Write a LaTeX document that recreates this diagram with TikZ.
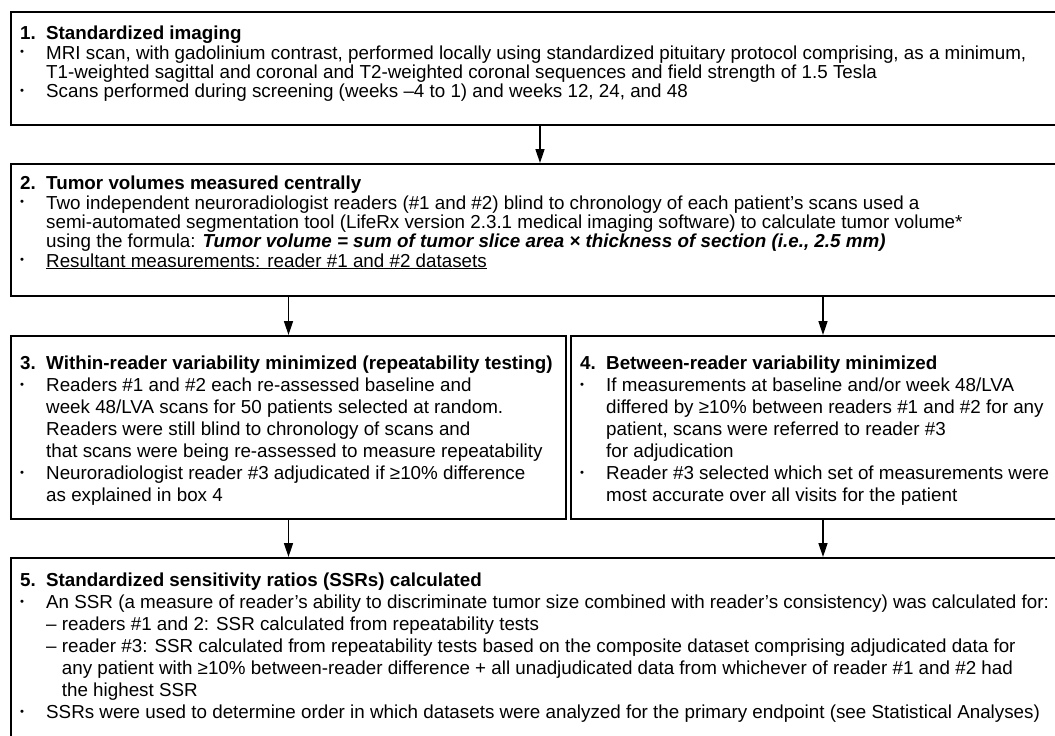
\documentclass[tikz,border=0pt]{standalone}
\usepackage{fontspec}
\setmainfont{Liberation Sans}
\usepackage{graphicx}
\usepackage{array}
\usetikzlibrary{arrows.meta,calc}

\newcommand{\bul}{\raisebox{0.35ex}{\scalebox{0.6}{\textbullet}}}
\newcommand{\subind}{\phantom{– }}

\tikzset{
  box/.style={draw, line width=2pt, rectangle, inner sep=0pt, anchor=north west},
  boxtext/.style={anchor=north west, inner sep=0pt, align=left},
  arr/.style={line width=1.6pt, -{Triangle[length=14pt,width=9pt]}}
}

\begin{document}
\begin{tikzpicture}[x=1pt,y=-1pt]
    \useasboundingbox (0,0) rectangle (1055,736);
    \clip (0,0) rectangle (1055,736);

    % Kutular
    \node[box, minimum width=1058pt, minimum height=113pt] (box1) at (10,11) {};
    \node[box, minimum width=1058pt, minimum height=132pt] (box2) at (10,163) {};
    \node[box, minimum width=555pt, minimum height=183pt] (box3) at (10,335) {};
    \node[box, minimum width=504pt, minimum height=183pt] (box4) at (570,335) {};
    \node[box, minimum width=1058pt, minimum height=210pt] (box5) at (10,557) {};

    % Metinler
    \node[boxtext, font=\fontsize{18.8}{19}\selectfont] (txt1) at ([shift={(10,15)}]box1.north west) {%
      \begin{tabular}{@{}p{26pt}@{}l@{}}
        \textbf{1.} & \textbf{Standardized imaging}\\
        \bul & MRI scan, with gadolinium contrast, performed locally using standardized pituitary protocol comprising, as a minimum,\\
             & T1-weighted sagittal and coronal and T2-weighted coronal sequences and field strength of 1.5 Tesla\\
        \bul & Scans performed during screening (weeks –4 to 1) and weeks 12, 24, and 48
      \end{tabular}};

    \node[boxtext, font=\fontsize{18.8}{19}\selectfont] (txt2) at ([shift={(10,13)}]box2.north west) {%
      \begin{tabular}{@{}p{26pt}@{}l@{}}
        \textbf{2.} & \textbf{Tumor volumes measured centrally}\\
        \bul & Two independent neuroradiologist readers (\#1 and \#2) blind to chronology of each patient’s scans used a\\
             & semi-automated segmentation tool (LifeRx version 2.3.1 medical imaging software) to calculate tumor volume*\\
             & using the formula: {\bfseries\itshape Tumor volume = sum of tumor slice area × thickness of section (i.e., 2.5 mm)}\\
        \bul & \underline{Resultant measurements: reader \#1 and \#2 datasets}
      \end{tabular}};

    \node[boxtext, font=\fontsize{18.8}{22}\selectfont] (txt3) at ([shift={(10,19)}]box3.north west) {%
      \begin{tabular}{@{}p{26pt}@{}l@{}}
        \textbf{3.} & \textbf{Within-reader variability minimized (repeatability testing)}\\
        \bul & Readers \#1 and \#2 each re-assessed baseline and\\
             & week 48/LVA scans for 50 patients selected at random.\\
             & Readers were still blind to chronology of scans and\\
             & that scans were being re-assessed to measure repeatability\\
        \bul & Neuroradiologist reader \#3 adjudicated if ≥10\% difference\\
             & as explained in box 4
      \end{tabular}};

    \node[boxtext, font=\fontsize{18.8}{22}\selectfont] (txt4) at ([shift={(10,19)}]box4.north west) {%
      \begin{tabular}{@{}p{26pt}@{}l@{}}
        \textbf{4.} & \textbf{Between-reader variability minimized}\\
        \bul & If measurements at baseline and/or week 48/LVA\\
             & differed by ≥10\% between readers \#1 and \#2 for any\\
             & patient, scans were referred to reader \#3\\
             & for adjudication\\
        \bul & Reader \#3 selected which set of measurements were\\
             & most accurate over all visits for the patient
      \end{tabular}};

    \node[boxtext, font=\fontsize{18.8}{22}\selectfont] (txt5) at ([shift={(10,14)}]box5.north west) {%
      \begin{tabular}{@{}p{26pt}@{}l@{}}
        \textbf{5.} & \textbf{Standardized sensitivity ratios (SSRs) calculated}\\
        \bul & An SSR (a measure of reader’s ability to discriminate tumor size combined with reader’s consistency) was calculated for:\\
             & – readers \#1 and 2: SSR calculated from repeatability tests\\
             & – reader \#3: SSR calculated from repeatability tests based on the composite dataset comprising adjudicated data for\\
             & \subind any patient with ≥10\% between-reader difference + all unadjudicated data from whichever of reader \#1 and \#2 had\\
             & \subind the highest SSR\\
        \bul & SSRs were used to determine order in which datasets were analyzed for the primary endpoint (see Statistical Analyses)
      \end{tabular}};

    % Oklar
    \draw[arr] (box1.south) -- (box2.north);
    \draw[arr] (box2.south -| box3.north) -- (box3.north);
    \draw[arr] (box2.south -| box4.north) -- (box4.north);
    \draw[arr] (box3.south) -- (box3.south |- box5.north);
    \draw[arr] (box4.south) -- (box4.south |- box5.north);
\end{tikzpicture}
\end{document}
